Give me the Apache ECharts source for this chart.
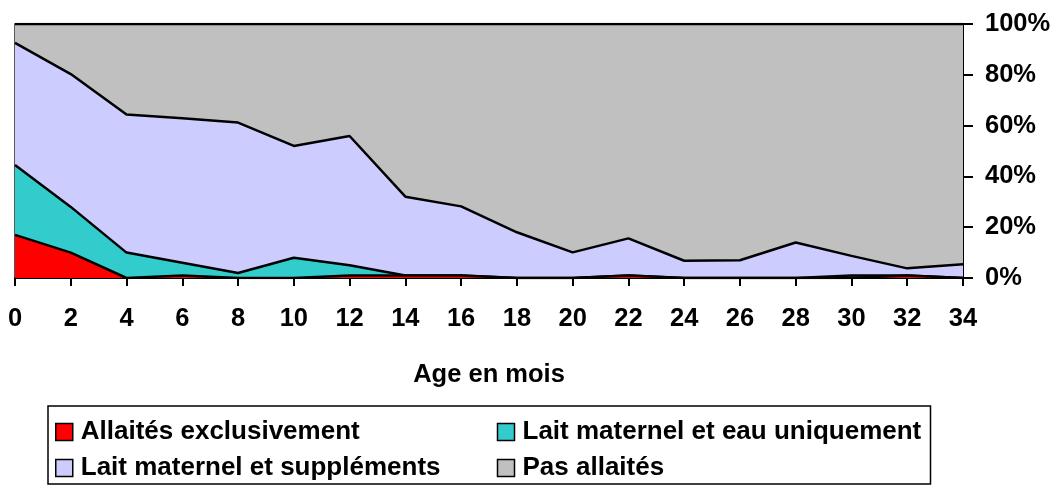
<!DOCTYPE html>
<html><head><meta charset="utf-8">
<script src="https://cdn.jsdelivr.net/npm/echarts@6/dist/echarts.min.js"></script>
<style>html,body{margin:0;padding:0;background:#fff}#c{width:1054px;height:486px}</style>
</head><body><div id="c"></div>
<script>
const categories = ['0','2','4','6','8','10','12','14','16','18','20','22','24','26','28','30','32','34'];
const seriesNames = ['Allaités exclusivement','Lait maternel et eau uniquement','Lait maternel et suppléments','Pas allaités'];
const exclusif   = [17, 10, 0, 1, 0, 0, 1, 1, 1, 0, 0, 1, 0, 0, 0, 0, 1, 0];
const eau        = [27.5, 18, 10, 5, 2, 8, 4, 0, 0, 0, 0, 0, 0, 0, 0, 1, 0, 0];
const supplements= [48.1, 52.3, 54.4, 56.9, 59.2, 44, 50.9, 31, 27.2, 18, 10.1, 14.6, 6.8, 7, 14, 7.7, 2.8, 5.4];
const pasAllaites= [7.4, 19.7, 35.6, 37.1, 38.8, 48, 44.1, 68, 71.8, 82, 89.9, 84.4, 93.2, 93, 86, 91.3, 96.2, 94.6];
const yTicks = [0, 20, 40, 60, 80, 100];
const colors = ['#FF0000','#33CCCC','#CCCCFF','#C0C0C0'];
const values = [exclusif, eau, supplements, pasAllaites];

const font = 'Arial, "Liberation Sans", sans-serif';
const chart = echarts.init(document.getElementById('c'), null, {renderer:'canvas'});
chart.setOption({
  animation: false,
  grid: {left: 15, right: 91, top: 24, bottom: 208, show: true, borderColor: '#222', borderWidth: 1.5, backgroundColor: 'transparent'},
  legend: {
    left: 48, top: 406,
    orient: 'horizontal',
    icon: 'rect', itemWidth: 17, itemHeight: 17, itemGap: 10,
    padding: [13, 2, 3, 7],
    borderColor: '#000', borderWidth: 1.5,
    itemStyle: {borderColor: '#000', borderWidth: 1.5},
    textStyle: {fontFamily: font, fontWeight: 'bold', fontSize: 26, color: '#000', width: 406, lineHeight: 26, overflow: 'none', padding: [0,0,0,3]},
    data: seriesNames
  },
  xAxis: {
    type: 'category', data: categories, boundaryGap: false,
    name: 'Age en mois', nameLocation: 'middle', nameGap: 84,
    nameTextStyle: {fontFamily: font, fontWeight: 'bold', fontSize: 25.5, color: '#000'},
    axisLine: {lineStyle: {color: '#000', width: 2}},
    axisTick: {show: true, length: 8, lineStyle: {color: '#000', width: 2}},
    axisLabel: {fontFamily: font, fontWeight: 'bold', fontSize: 25.5, color: '#000', margin: 28, interval: 0},
    splitLine: {show: false}
  },
  yAxis: {
    type: 'value', position: 'right', min: yTicks[0], max: yTicks[yTicks.length-1], interval: 20,
    axisLine: {show: true, lineStyle: {color: '#000', width: 2}},
    axisTick: {show: true, length: 10, lineStyle: {color: '#000', width: 2}},
    axisLabel: {fontFamily: font, fontWeight: 'bold', fontSize: 25.5, color: '#000', margin: 22, formatter: '{value}%'},
    splitLine: {show: false}
  },
  series: seriesNames.map((n, i) => ({
    name: n, type: 'line', stack: 'total', data: values[i],
    showSymbol: false, symbol: 'none',
    itemStyle: {color: colors[i]},
    lineStyle: {color: '#000', width: 2.5},
    areaStyle: {color: colors[i], opacity: 1},
    z: 10 - i
  }))
});
</script></body></html>
